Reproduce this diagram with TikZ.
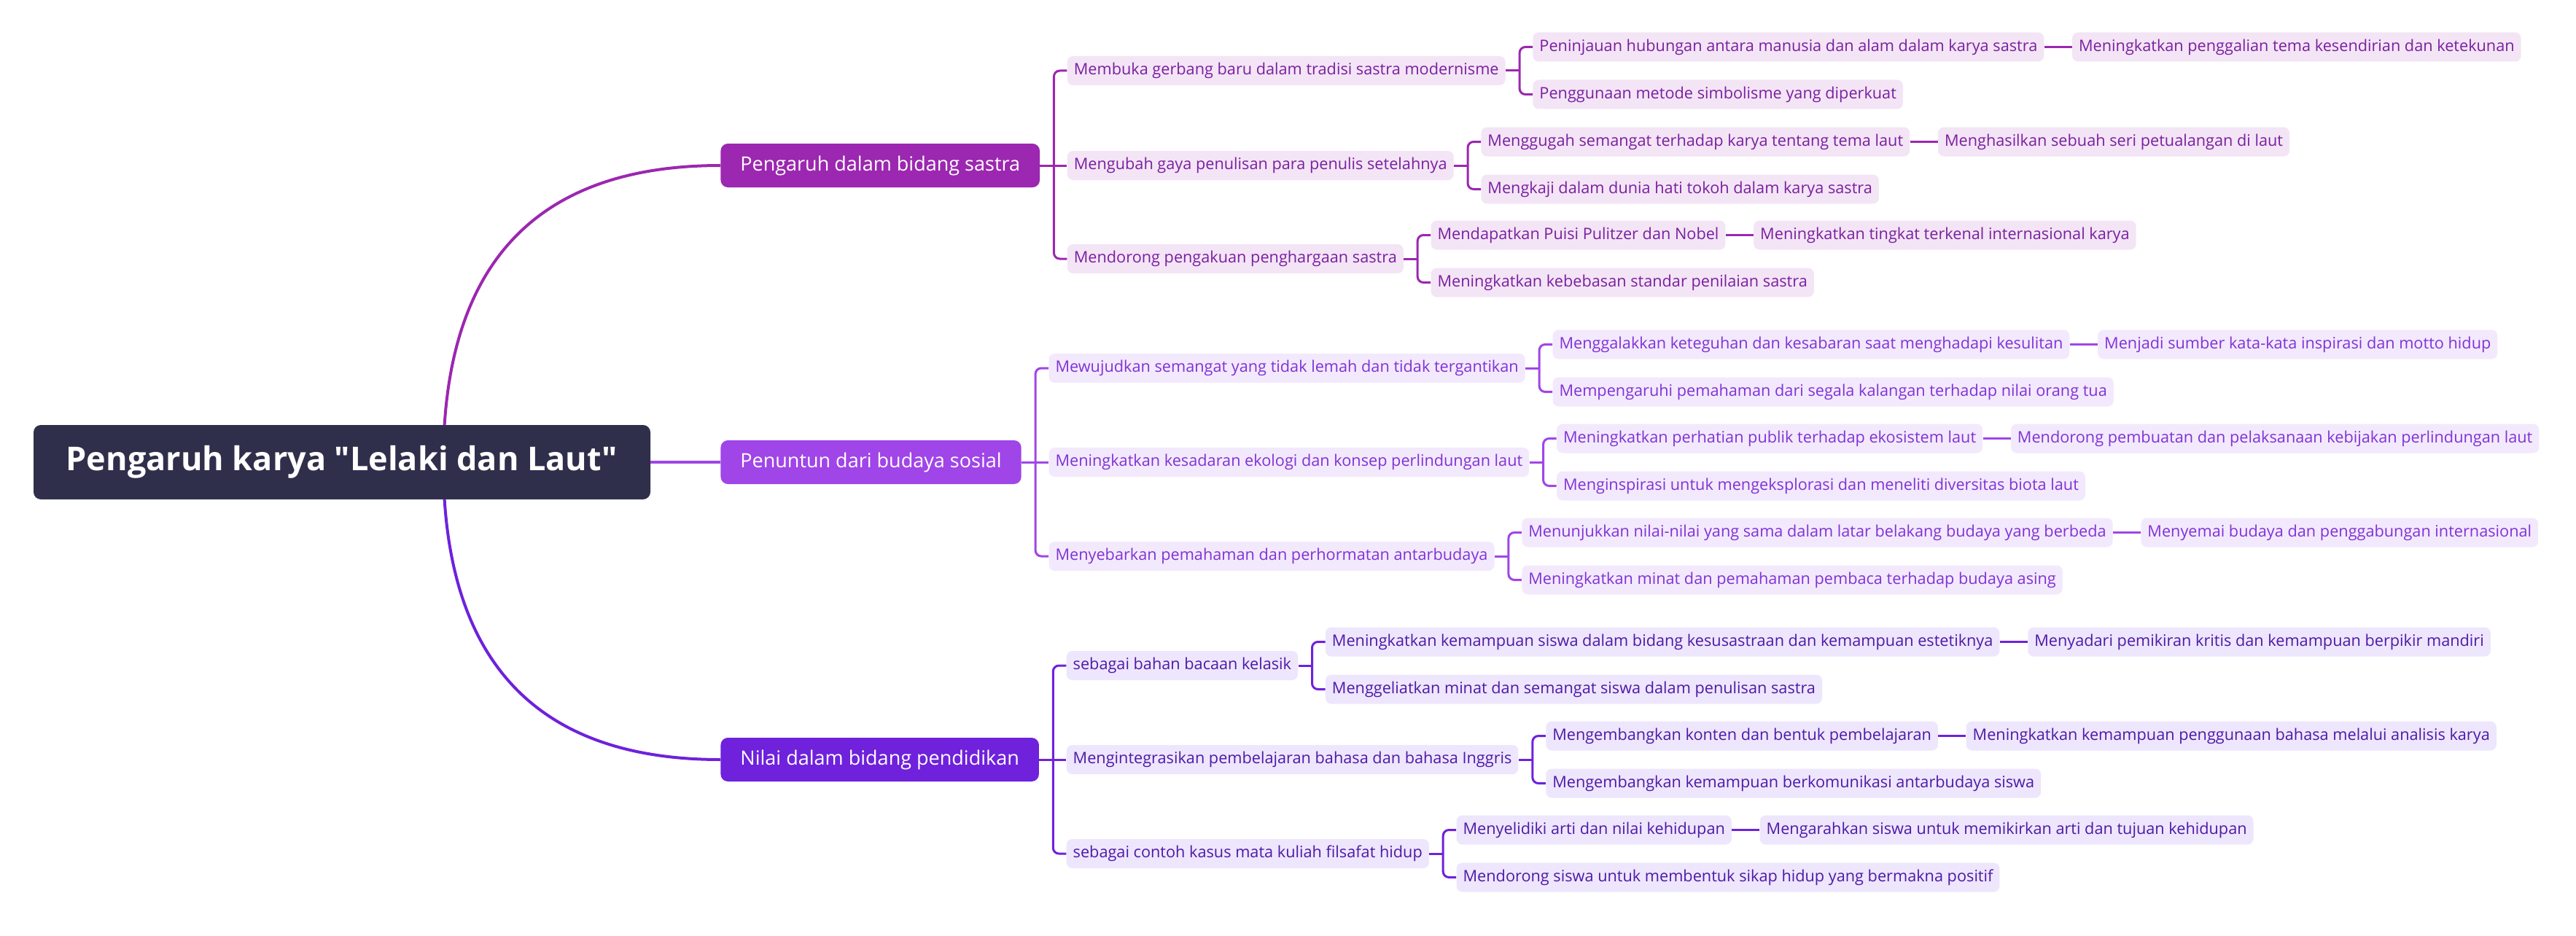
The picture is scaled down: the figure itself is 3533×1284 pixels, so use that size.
\documentclass[tikz,border=0pt]{standalone}
\usepackage{fontspec}
\setmainfont{Open Sans}
\newfontfamily\rootfont{Open Sans}[Ligatures=TeXOff]
\usetikzlibrary{calc}
\definecolor{rootc}{HTML}{302F4B}
\definecolor{darkA}{HTML}{9C27B0}
\definecolor{lightA}{HTML}{F3E5F5}
\definecolor{textA}{HTML}{7B1FA2}
\definecolor{darkB}{HTML}{A045E8}
\definecolor{lightB}{HTML}{F3E9FD}
\definecolor{textB}{HTML}{8033D6}
\definecolor{darkC}{HTML}{6F21DC}
\definecolor{lightC}{HTML}{EEE6FC}
\definecolor{textC}{HTML}{4E1AA8}
\tikzset{
  rootbox/.style={fill=rootc, rounded corners=5pt, text=white,
    font=\rootfont\fontsize{22.5}{27}\selectfont\bfseries,
    minimum width=423pt, minimum height=51pt, inner sep=0pt},
  onebox/.style={fill=#1, rounded corners=5pt, text=white,
    font=\fontsize{13.5}{16}\selectfont, minimum height=30pt,
    inner xsep=13.5pt, inner ysep=0pt, anchor=west},
  smallbox/.style={rounded corners=4pt, font=\fontsize{10.85}{13}\selectfont,
    minimum height=20pt, inner xsep=4.5pt, inner ysep=0pt},
  boxa/.style={smallbox, fill=lightA, text=textA},
  boxb/.style={smallbox, fill=lightB, text=textB},
  boxc/.style={smallbox, fill=lightC, text=textC},
  lna/.style={draw=darkA, line width=1.5pt},
  lnb/.style={draw=darkB, line width=1.5pt},
  lnc/.style={draw=darkC, line width=1.5pt},
  curvea/.style={draw=darkA, line width=2pt},
  curveb/.style={draw=darkB, line width=2pt},
  curvec/.style={draw=darkC, line width=2pt},
}
% #1 branch, #2 parent, #3 name, #4 y offset, #5 L2 text, #6 L3 upper, #7 L4, #8 L3 lower
\newcommand{\mmsub}[8]{%
  \node[box#1, anchor=west] (#3) at ($(#2.east)+(37,#4)$) {#5};
  \node[box#1, anchor=west] (#3x) at ($(#3.east)+(37,-32.5)$) {#6};
  \node[box#1, anchor=west] (#3y) at ($(#3x.east)+(38,0)$) {#7};
  \node[box#1, anchor=west] (#3z) at ($(#3.east)+(37,32.5)$) {#8};
  \coordinate (#3b) at ($(#3.east)+(19,0)$);
  \draw[ln#1] (#3.east) -- (#3b);
  \draw[ln#1, rounded corners=4pt] (#3x.west) -- ++(-18,0) |- (#3z.west);
  \draw[ln#1] (#3x.east) -- (#3y.west);
}
\begin{document}
\begin{tikzpicture}[x=0.5pt,y=-0.5pt]
\useasboundingbox (0,0) rectangle (3533,1284);
\fill[white] (0,0) rectangle (3533,1284);

\node[onebox=darkA] (A) at (988,227) {Pengaruh dalam bidang sastra};
\node[onebox=darkB] (B) at (988,634) {Penuntun dari budaya sosial};
\node[onebox=darkC] (C) at (988,1042) {Nilai dalam bidang pendidikan};

\coordinate (rc) at (608,634);
\draw[curvea] (rc) .. controls ($(rc)!0.667!(rc |- A.west)$) and ($(A.west)!0.667!(rc |- A.west)$) .. (A.west);
\draw[curvec] (rc) .. controls ($(rc)!0.667!(rc |- C.west)$) and ($(C.west)!0.667!(rc |- C.west)$) .. (C.west);

\node[rootbox] (R) at (469,634) {Pengaruh karya "Lelaki dan Laut"};
\draw[curveb] (R.east) -- (B.west);

% Branch A
\mmsub{a}{A}{a1}{-130}{Membuka gerbang baru dalam tradisi sastra modernisme}
  {Peninjauan hubungan antara manusia dan alam dalam karya sastra}
  {Meningkatkan penggalian tema kesendirian dan ketekunan}
  {Penggunaan metode simbolisme yang diperkuat}
\mmsub{a}{A}{a2}{0}{Mengubah gaya penulisan para penulis setelahnya}
  {Menggugah semangat terhadap karya tentang tema laut}
  {Menghasilkan sebuah seri petualangan di laut}
  {Mengkaji dalam dunia hati tokoh dalam karya sastra}
\mmsub{a}{A}{a3}{128}{Mendorong pengakuan penghargaan sastra}
  {Mendapatkan Puisi Pulitzer dan Nobel}
  {Meningkatkan tingkat terkenal internasional karya}
  {Meningkatkan kebebasan standar penilaian sastra}
\draw[lna, rounded corners=4pt] (a1.west) -- ++(-18,0) |- (a3.west);
\draw[lna] (A.east) -- (a2.west);

% Branch B
\mmsub{b}{B}{b1}{-129}{Mewujudkan semangat yang tidak lemah dan tidak tergantikan}
  {Menggalakkan keteguhan dan kesabaran saat menghadapi kesulitan}
  {Menjadi sumber kata-kata inspirasi dan motto hidup}
  {Mempengaruhi pemahaman dari segala kalangan terhadap nilai orang tua}
\mmsub{b}{B}{b2}{0}{Meningkatkan kesadaran ekologi dan konsep perlindungan laut}
  {Meningkatkan perhatian publik terhadap ekosistem laut}
  {Mendorong pembuatan dan pelaksanaan kebijakan perlindungan laut}
  {Menginspirasi untuk mengeksplorasi dan meneliti diversitas biota laut}
\mmsub{b}{B}{b3}{129}{Menyebarkan pemahaman dan perhormatan antarbudaya}
  {Menunjukkan nilai-nilai yang sama dalam latar belakang budaya yang berbeda}
  {Menyemai budaya dan penggabungan internasional}
  {Meningkatkan minat dan pemahaman pembaca terhadap budaya asing}
\draw[lnb, rounded corners=4pt] (b1.west) -- ++(-18,0) |- (b3.west);
\draw[lnb] (B.east) -- (b2.west);

% Branch C
\mmsub{c}{C}{c1}{-129}{sebagai bahan bacaan kelasik}
  {Meningkatkan kemampuan siswa dalam bidang kesusastraan dan kemampuan estetiknya}
  {Menyadari pemikiran kritis dan kemampuan berpikir mandiri}
  {Menggeliatkan minat dan semangat siswa dalam penulisan sastra}
\mmsub{c}{C}{c2}{0}{Mengintegrasikan pembelajaran bahasa dan bahasa Inggris}
  {Mengembangkan konten dan bentuk pembelajaran}
  {Meningkatkan kemampuan penggunaan bahasa melalui analisis karya}
  {Mengembangkan kemampuan berkomunikasi antarbudaya siswa}
\mmsub{c}{C}{c3}{129}{sebagai contoh kasus mata kuliah filsafat hidup}
  {Menyelidiki arti dan nilai kehidupan}
  {Mengarahkan siswa untuk memikirkan arti dan tujuan kehidupan}
  {Mendorong siswa untuk membentuk sikap hidup yang bermakna positif}
\draw[lnc, rounded corners=4pt] (c1.west) -- ++(-18,0) |- (c3.west);
\draw[lnc] (C.east) -- (c2.west);
\end{tikzpicture}
\end{document}
